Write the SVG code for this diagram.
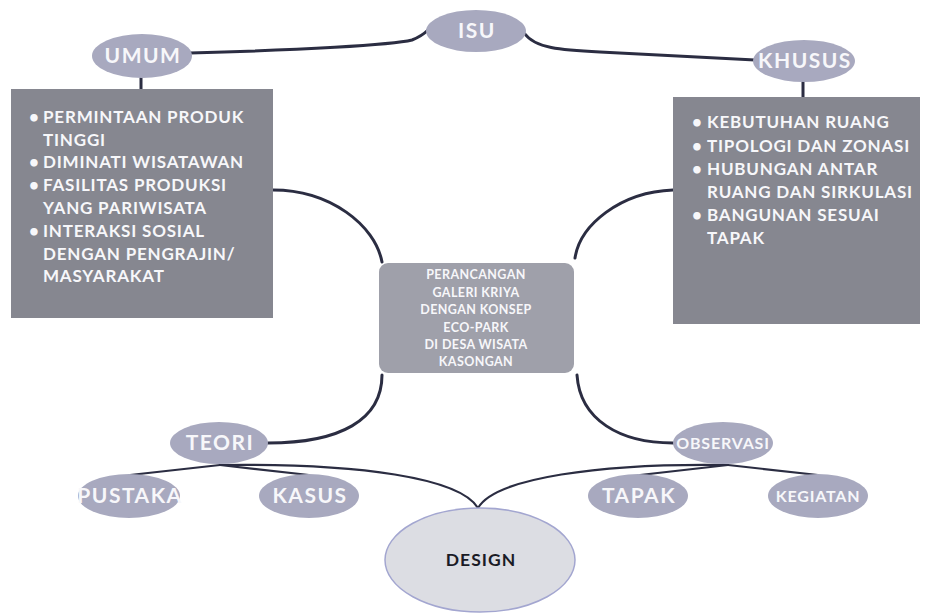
<svg xmlns="http://www.w3.org/2000/svg" width="925" height="613" viewBox="0 0 925 613">
<style>
.bg{fill:#ffffff}
.ell{fill:#a8a9bf}
.lbl{font-family:Lato,"Open Sans","Liberation Sans",sans-serif;font-weight:700;fill:#f7f7fa;text-anchor:middle;font-size:21px;letter-spacing:1.5px}
.sm{font-size:16px;letter-spacing:0.8px}
.box{fill:#868790}
.btxt{font-family:Lato,"Open Sans","Liberation Sans",sans-serif;font-weight:700;fill:#f7f7fa;font-size:17px;letter-spacing:0.8px}
.ctr{fill:#9fa0aa}
.ctxt{font-family:Lato,"Open Sans","Liberation Sans",sans-serif;font-weight:700;fill:#f7f7fa;font-size:12.5px;letter-spacing:0.4px;text-anchor:middle}
.con{fill:none;stroke:#2b2d42;stroke-width:3;stroke-linecap:round}
.thin{stroke-width:2.2}
</style>
<rect class="bg" x="0" y="0" width="925" height="613"/>
<g id="connectors">
<path class="con" d="M190,53 C300,50 392,45 412,40 Q422,36 428,30"/>
<path class="con" d="M525,34 C535,48 560,50 600,52 L755,60"/>
<path class="con" d="M141,78 V89"/>
<path class="con" d="M803,82 V97"/>
<path class="con" d="M273,190 C330,190 375,225 382,262"/>
<path class="con" d="M673,190 C620,192 580,225 575,258"/>
<path class="con" d="M382,375 C382,420 340,443 268,443"/>
<path class="con" d="M577,375 C580,420 620,443 673,443"/>
<path class="con thin" d="M220,465 L130,475"/>
<path class="con thin" d="M220,465 L309,475"/>
<path class="con thin" d="M220,465 C360,463 460,478 478,508"/>
<path class="con thin" d="M728,465 C600,463 495,478 478,508"/>
<path class="con thin" d="M728,465 L640,475"/>
<path class="con thin" d="M728,465 L818,475"/>
</g>
<g id="isu">
<ellipse class="ell" cx="476" cy="31" rx="50" ry="21"/>
<text class="lbl" x="477" y="38">ISU</text>
</g>
<g id="umum">
<ellipse class="ell" cx="142" cy="56" rx="50" ry="22"/>
<text class="lbl" x="143" y="63">UMUM</text>
</g>
<g id="khusus">
<ellipse class="ell" cx="804" cy="61" rx="51" ry="21"/>
<text class="lbl" x="805" y="68">KHUSUS</text>
</g>
<g id="umum-box">
<rect class="box" x="11" y="89" width="262" height="229"/>
<text class="btxt"><tspan x="29" y="123">•</tspan><tspan x="43" y="123">PERMINTAAN PRODUK</tspan><tspan x="43" y="146">TINGGI</tspan><tspan x="29" y="168">•</tspan><tspan x="43" y="168">DIMINATI WISATAWAN</tspan><tspan x="29" y="191">•</tspan><tspan x="43" y="191">FASILITAS PRODUKSI</tspan><tspan x="43" y="214">YANG PARIWISATA</tspan><tspan x="29" y="237">•</tspan><tspan x="43" y="237">INTERAKSI SOSIAL</tspan><tspan x="43" y="260">DENGAN PENGRAJIN/</tspan><tspan x="43" y="282">MASYARAKAT</tspan></text>
</g>
<g id="khusus-box">
<rect class="box" x="673" y="97" width="247" height="227"/>
<text class="btxt"><tspan x="692" y="128">•</tspan><tspan x="707" y="128">KEBUTUHAN RUANG</tspan><tspan x="692" y="152">•</tspan><tspan x="707" y="152">TIPOLOGI DAN ZONASI</tspan><tspan x="692" y="175">•</tspan><tspan x="707" y="175">HUBUNGAN ANTAR</tspan><tspan x="707" y="198">RUANG DAN SIRKULASI</tspan><tspan x="692" y="221">•</tspan><tspan x="707" y="221">BANGUNAN SESUAI</tspan><tspan x="707" y="244">TAPAK</tspan></text>
</g>
<g id="center">
<rect class="ctr" x="379" y="263" width="195" height="110" rx="9"/>
<text class="ctxt"><tspan x="476" y="279">PERANCANGAN</tspan><tspan x="476" y="297">GALERI KRIYA</tspan><tspan x="476" y="314">DENGAN KONSEP</tspan><tspan x="476" y="332">ECO-PARK</tspan><tspan x="476" y="349">DI DESA WISATA</tspan><tspan x="476" y="366">KASONGAN</tspan></text>
</g>
<g id="teori">
<ellipse class="ell" cx="219" cy="443" rx="49" ry="21"/>
<text class="lbl" x="220" y="450">TEORI</text>
</g>
<g id="observasi">
<ellipse class="ell" cx="723" cy="443" rx="50" ry="21"/>
<text class="lbl sm" x="723" y="449">OBSERVASI</text>
</g>
<g id="pustaka">
<ellipse class="ell" cx="129" cy="496" rx="51" ry="22"/>
<text class="lbl" x="130" y="503">PUSTAKA</text>
</g>
<g id="kasus">
<ellipse class="ell" cx="309" cy="496" rx="50" ry="22"/>
<text class="lbl" x="310" y="503">KASUS</text>
</g>
<g id="tapak">
<ellipse class="ell" cx="638" cy="496" rx="50" ry="22"/>
<text class="lbl" x="639" y="503">TAPAK</text>
</g>
<g id="kegiatan">
<ellipse class="ell" cx="818" cy="496" rx="50" ry="22"/>
<text class="lbl sm" x="818" y="502">KEGIATAN</text>
</g>
<g id="design">
<ellipse cx="480" cy="560" rx="95" ry="52" fill="#dcdde3" stroke="#a3a6d0" stroke-width="1.5"/>
<text x="481" y="566" font-family="Lato,'Open Sans','Liberation Sans',sans-serif" font-weight="700" font-size="17.5" letter-spacing="1" fill="#1a1b26" text-anchor="middle">DESIGN</text>
</g>
</svg>
